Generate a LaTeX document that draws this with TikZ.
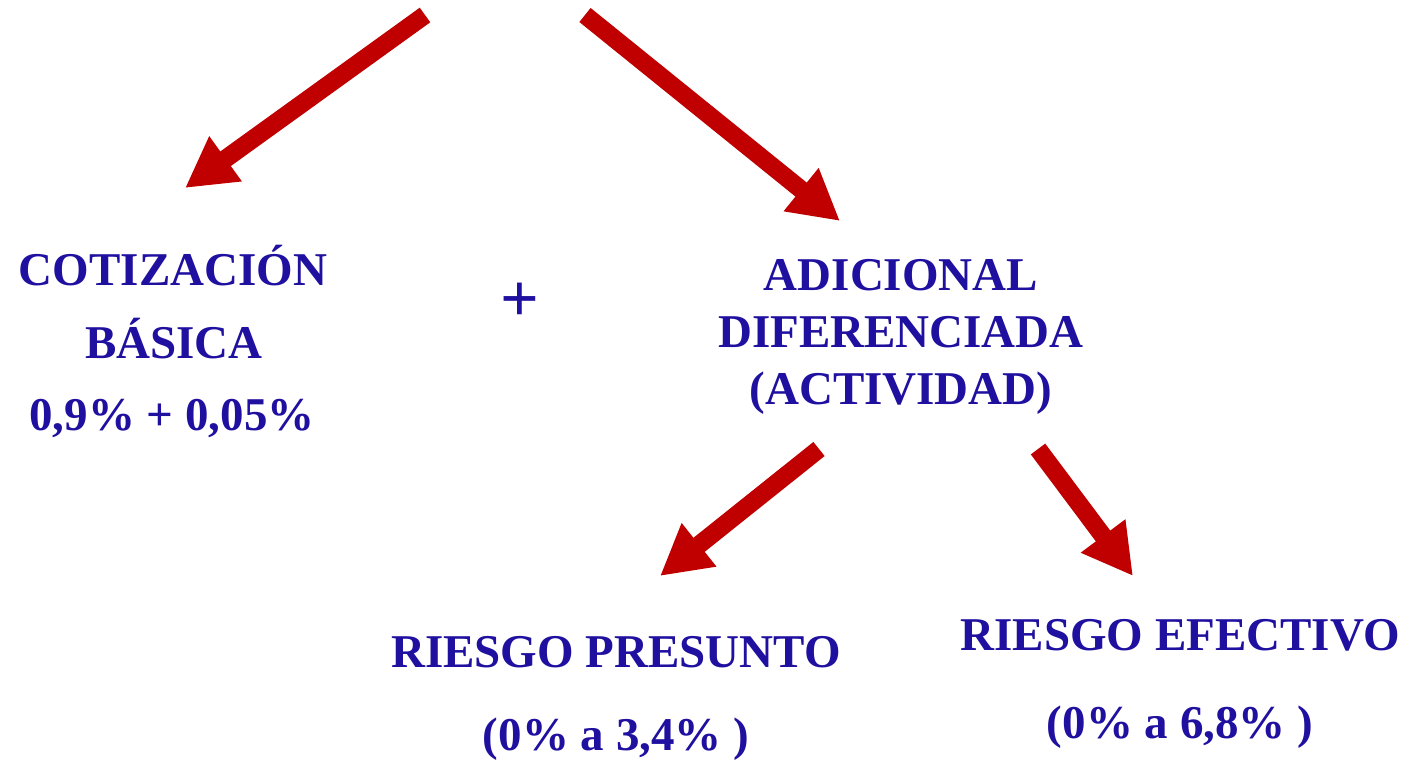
\documentclass[tikz,border=0pt]{standalone}
\usepackage{fontspec}
\setmainfont{Liberation Serif}
\usetikzlibrary{arrows.meta}
\definecolor{txtblue}{RGB}{32,16,160}
\definecolor{arrred}{RGB}{192,0,0}
\tikzset{
  lbl/.style={text=txtblue, font=\fontsize{47}{50}\selectfont\bfseries, anchor=base, inner sep=0pt},
  bigarrow/.style={draw=arrred, line width=18pt, line cap=butt,
    -{Triangle[width=52pt,length=50pt]}, shorten >=0pt}
}
\begin{document}
\begin{tikzpicture}[x=1pt,y=-1pt]
\useasboundingbox (0,0) rectangle (1416,763);
% text
\node[lbl] (cot) at (173,285) {COTIZACIÓN};
\node[lbl] (bas) at (174,358) {BÁSICA};
\node[lbl] (pct) at (172,430) {0,9\% + 0,05\%};
\node[lbl, font=\fontsize{68}{68}\selectfont\bfseries] (plus) at (520,321) {+};
\node[lbl] (adi) at (901,290) {ADICIONAL};
\node[lbl] (dif) at (901,347) {DIFERENCIADA};
\node[lbl] (act) at (901,404) {(ACTIVIDAD)};
\node[lbl] (rp) at (616,667) {RIESGO PRESUNTO};
\node[lbl] (rpv) at (616,750) {(0\% a 3,4\% )};
\node[lbl] (re) at (1180,650) {RIESGO EFECTIVO};
\node[lbl] (rev) at (1180,738) {(0\% a 6,8\% )};
% arrow endpoints
\coordinate (s1) at (425,15);
\coordinate (t1) at (185,188);
\coordinate (s2) at (585,15);
\coordinate (t2) at (840,221);
\coordinate (s3) at (819,449);
\coordinate (t3) at (660,576);
\coordinate (s4) at (1038,449);
\coordinate (t4) at (1133,576);
\draw[bigarrow] (s1) -- (t1);
\draw[bigarrow] (s2) -- (t2);
\draw[bigarrow] (s3) -- (t3);
\draw[bigarrow] (s4) -- (t4);
\end{tikzpicture}
\end{document}
